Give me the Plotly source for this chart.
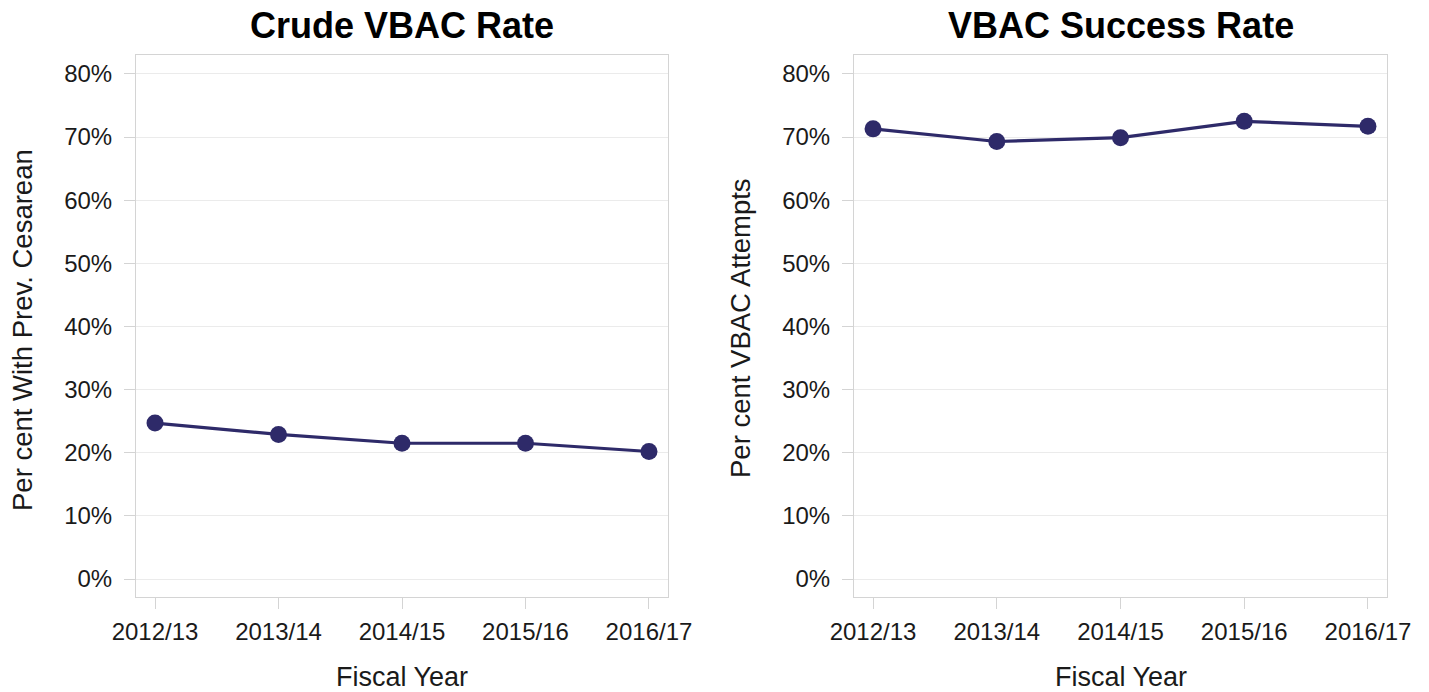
import plotly.graph_objects as go

years = ["2012/13", "2013/14", "2014/15", "2015/16", "2016/17"]
crude_vbac_rate = [24.7, 22.9, 21.5, 21.5, 20.2]
vbac_success_rate = [71.3, 69.3, 69.9, 72.5, 71.7]
y_ticks = [0, 10, 20, 30, 40, 50, 60, 70, 80]
y_tick_labels = [f"{v}%" for v in y_ticks]

panel_titles = ["Crude VBAC Rate", "VBAC Success Rate"]
y_titles = ["Per cent With Prev. Cesarean", "Per cent VBAC Attempts"]
x_title = "Fiscal Year"

LINE_COLOR = "#2E2A69"
FONT = "Liberation Sans, Arial, sans-serif"
TEXT = "#1a1a1a"
FRAME = "#d4d4d4"
GRID = "#ebebeb"

W, H = 1429, 692
x_domains = [[136 / W, 668 / W], [854 / W, 1387 / W]]
y_domain = [(H - 597) / H, (H - 55) / H]

fig = go.Figure()

for i, vals in enumerate([crude_vbac_rate, vbac_success_rate]):
    fig.add_trace(go.Scatter(
        x=years, y=vals,
        xaxis="x" if i == 0 else "x2",
        yaxis="y" if i == 0 else "y2",
        name=panel_titles[i],
        mode="lines+markers",
        line=dict(color=LINE_COLOR, width=3.2),
        marker=dict(color=LINE_COLOR, size=17),
        showlegend=False,
    ))

axis_common = dict(
    showline=True, linecolor=FRAME, linewidth=1, mirror=True,
    ticks="outside", ticklen=11, tickcolor=FRAME, tickwidth=1,
    tickfont=dict(family=FONT, size=24, color=TEXT),
    zeroline=False, automargin=False,
)
x_common = dict(axis_common, showgrid=False, type="category",
                range=[-0.154, 4.154], ticklabelstandoff=2)
y_common = dict(axis_common, showgrid=True, gridcolor=GRID, gridwidth=1,
                range=[-2.85, 83.0], tickvals=y_ticks, ticktext=y_tick_labels,
                ticklabelstandoff=7, domain=y_domain)

annotations = []
for i in range(2):
    cx = (x_domains[i][0] + x_domains[i][1]) / 2
    annotations.append(dict(
        text=f"<b>{panel_titles[i]}</b>", x=cx, y=1 - 25 / H,
        xref="paper", yref="paper", showarrow=False,
        xanchor="center", yanchor="middle",
        font=dict(family=FONT, size=36, color="#000000")))
    annotations.append(dict(
        text=x_title, x=cx, y=(H - 677) / H,
        xref="paper", yref="paper", showarrow=False,
        xanchor="center", yanchor="middle",
        font=dict(family=FONT, size=27, color=TEXT)))
annotations.append(dict(
    text=y_titles[0], x=22 / W, y=1 - 330 / H,
    xref="paper", yref="paper", showarrow=False, textangle=-90,
    xanchor="center", yanchor="middle",
    font=dict(family=FONT, size=27.5, color=TEXT)))
annotations.append(dict(
    text=y_titles[1], x=740 / W, y=1 - 328 / H,
    xref="paper", yref="paper", showarrow=False, textangle=-90,
    xanchor="center", yanchor="middle",
    font=dict(family=FONT, size=27.5, color=TEXT)))

fig.update_layout(
    width=W, height=H,
    margin=dict(l=0, r=0, t=0, b=0),
    paper_bgcolor="white", plot_bgcolor="white",
    xaxis=dict(x_common, domain=x_domains[0], anchor="y"),
    xaxis2=dict(x_common, domain=x_domains[1], anchor="y2"),
    yaxis=dict(y_common, anchor="x"),
    yaxis2=dict(y_common, anchor="x2"),
    annotations=annotations,
)

fig.write_html("out.html")
